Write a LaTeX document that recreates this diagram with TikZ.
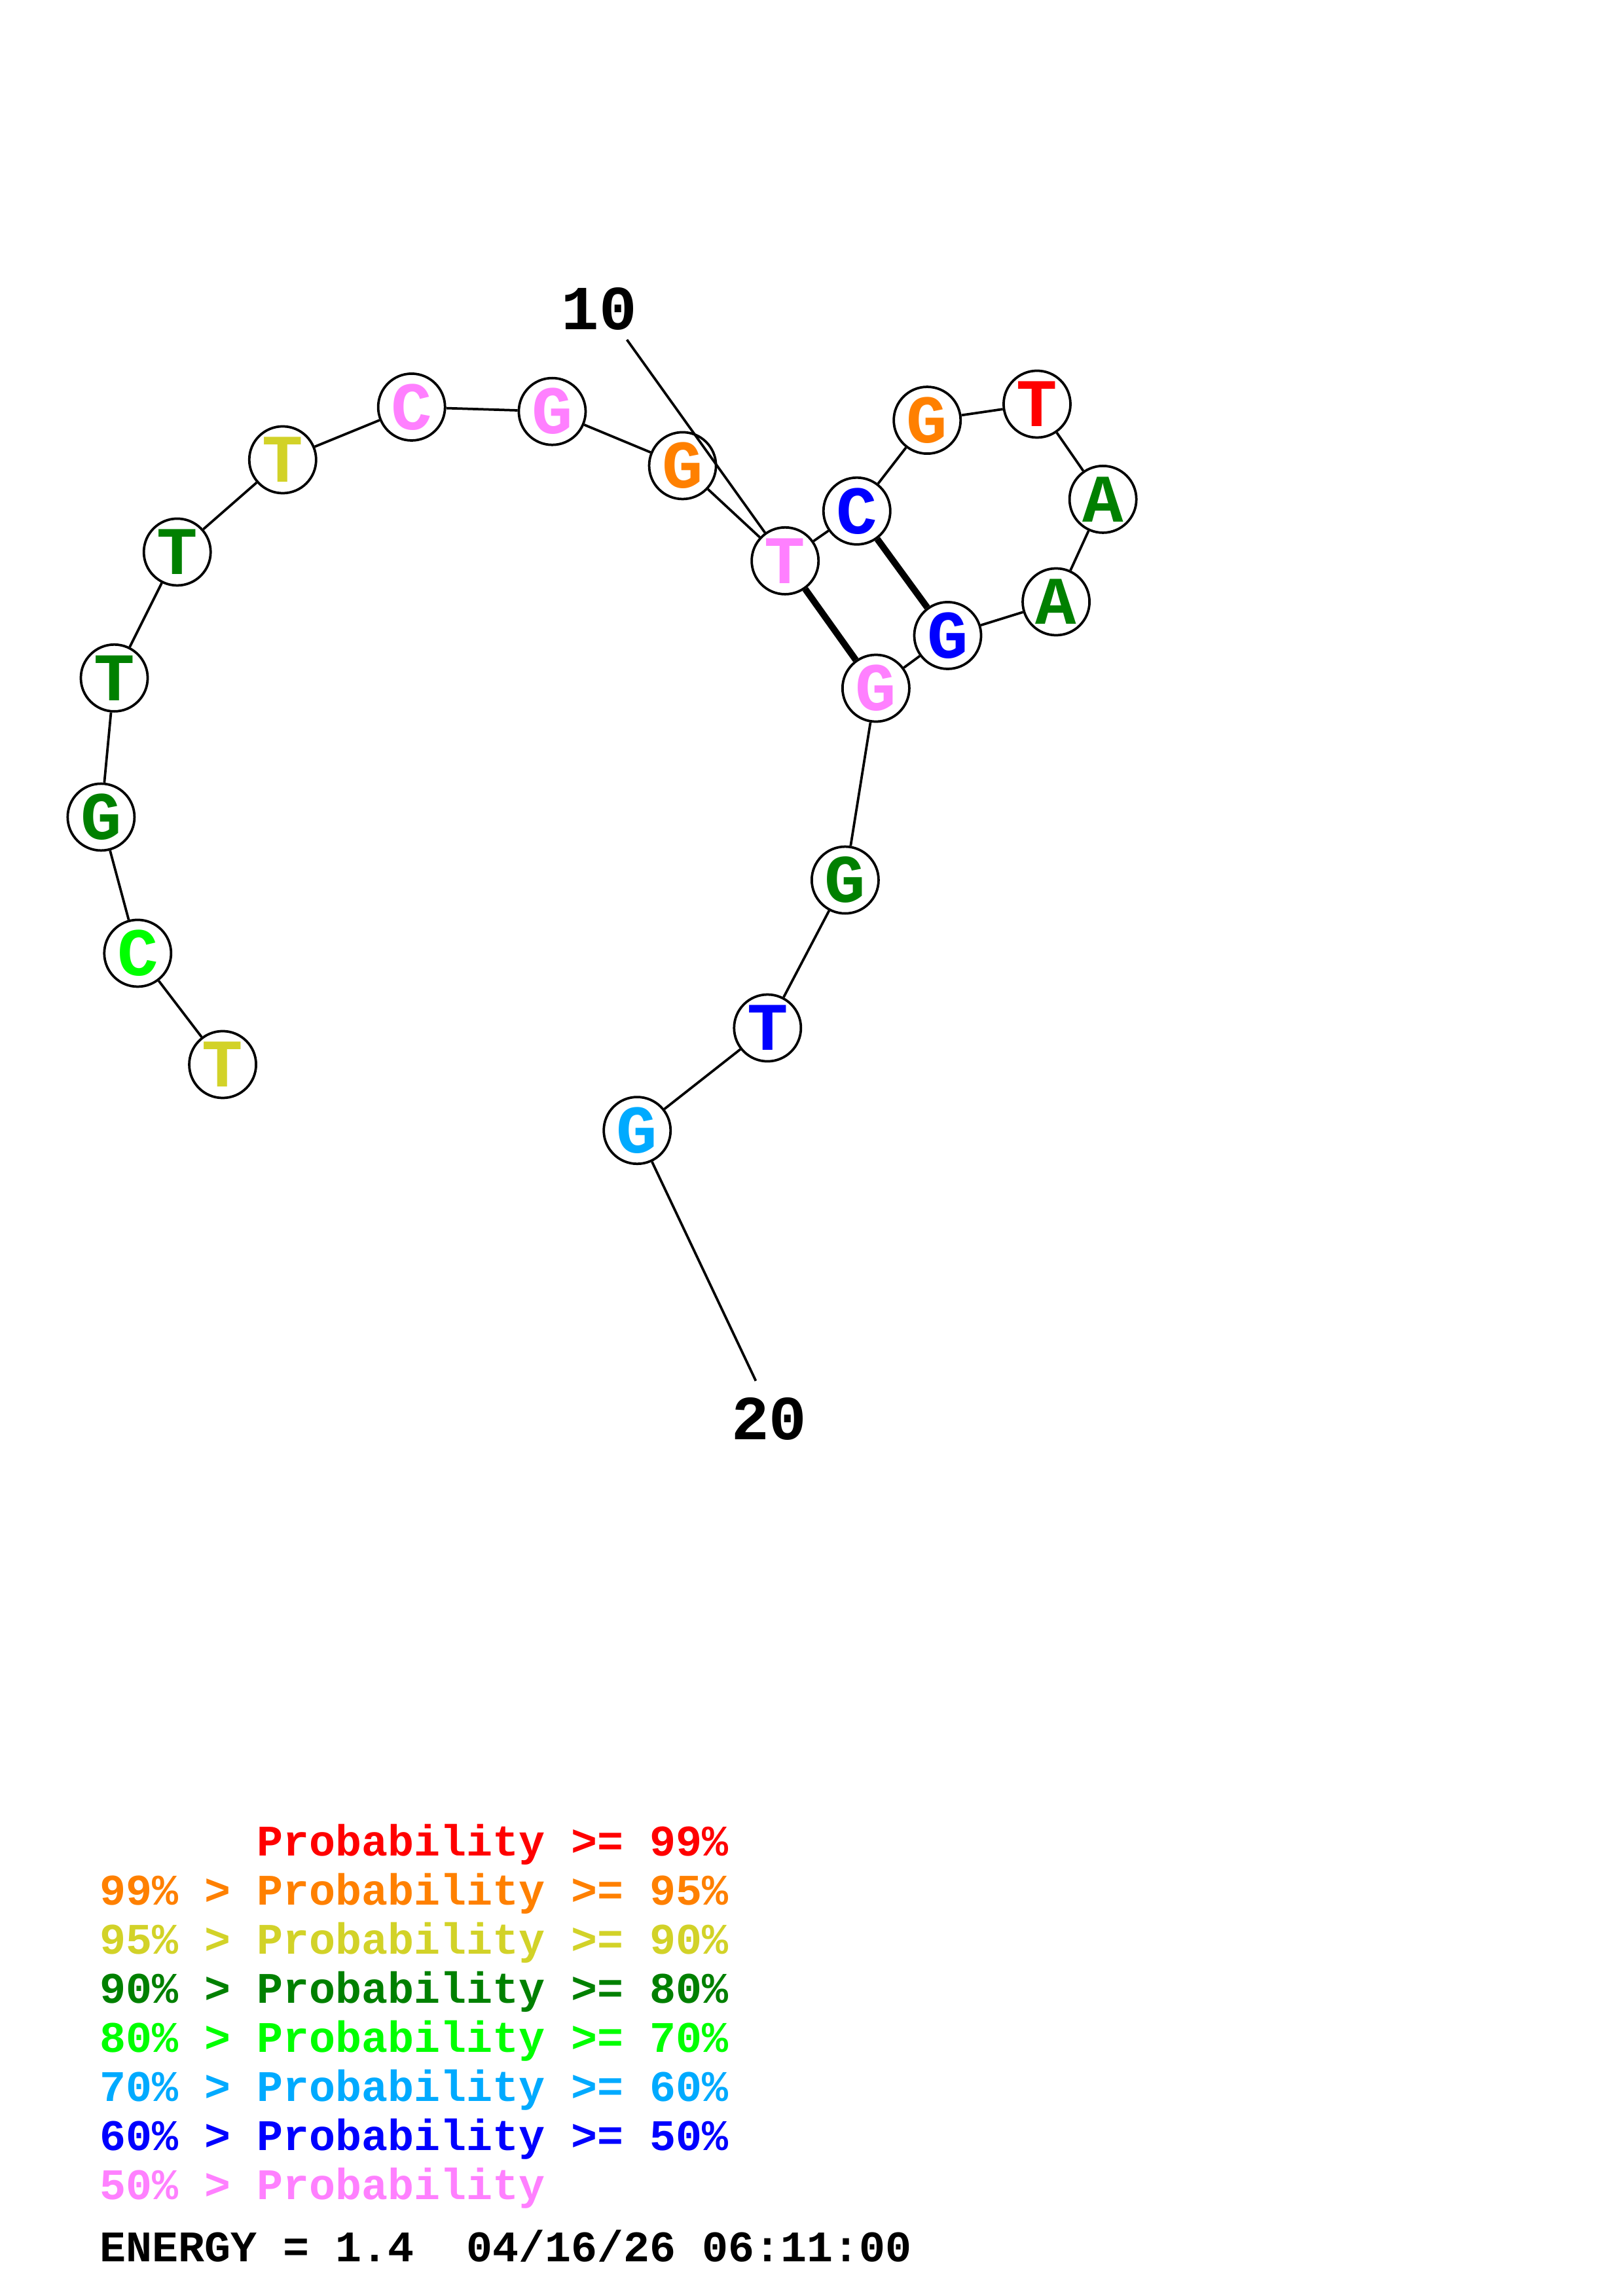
\documentclass[tikz,border=0pt]{standalone}
\usepackage{fontspec}
\setmonofont{Liberation Mono}
\definecolor{pred}{RGB}{255,0,0}
\definecolor{porange}{RGB}{255,128,0}
\definecolor{pyellow}{RGB}{210,210,40}
\definecolor{pdkgreen}{RGB}{0,128,0}
\definecolor{pgreen}{RGB}{0,255,0}
\definecolor{psky}{RGB}{0,170,255}
\definecolor{pblue}{RGB}{0,0,255}
\definecolor{ppink}{RGB}{255,128,255}

\begin{document}
\begin{tikzpicture}[x=0.537pt,y=0.537pt,yscale=-1,
    base/.style={circle,draw,line width=0.9pt,fill=white,minimum size=24.5pt,inner sep=0pt,
      font=\ttfamily\bfseries\fontsize{25}{25}\selectfont},
    bond/.style={line width=0.9pt},
    pairbond/.style={line width=2.4pt},
    tick/.style={inner sep=0pt,font=\ttfamily\bfseries\fontsize{23}{23}\selectfont},
    legend/.style={anchor=base west,inner sep=0pt,font=\ttfamily\bfseries\fontsize{16}{16}\selectfont}]
    \useasboundingbox (0,0) rectangle (1108,1568);

    % backbone lines
    \coordinate (c10) at (428,232);
    \coordinate (c20) at (516,943);

    % bases
    \foreach \x/\y/\b/\c [count=\i] in {152/727/T/pyellow, 94/651/C/pgreen, 69/558/G/pdkgreen,
        78/463/T/pdkgreen, 121/377/T/pdkgreen, 193/314/T/pyellow, 281/278/C/ppink,
        377/281/G/ppink, 466/318/G/porange, 536/383/T/ppink, 585/349/C/pblue,
        633/287/G/porange, 708/276/T/pred, 753/341/A/pdkgreen, 721/411/A/pdkgreen,
        647/434/G/pblue, 598/470/G/ppink, 577/601/G/pdkgreen, 524/702/T/pblue, 435/772/G/psky}
      \node[base,text=\c] (n\i) at (\x,\y) {\b};

    \foreach \i [remember=\i as \last (initially 1)] in {2,...,20}
      \draw[bond] (n\last) -- (n\i);

    % base pairs
    \draw[pairbond] (n10) -- (n17);
    \draw[pairbond] (n11) -- (n16);

    % position labels
    \node[tick] (t10) at (409,211) {10};
    \node[tick] (t20) at (525,969) {20};
    \draw[bond] (c10) -- (n10);
    \draw[bond] (n20) -- (c20);

    % legend
    \node[legend,text=pred] (l1) at (68,1267.5) {\phantom{99\% > }Probability >= 99\%};
    \foreach \c/\t [count=\i from 2] in {porange/99\% > Probability >= 95\%,
        pyellow/95\% > Probability >= 90\%, pdkgreen/90\% > Probability >= 80\%,
        pgreen/80\% > Probability >= 70\%, psky/70\% > Probability >= 60\%,
        pblue/60\% > Probability >= 50\%, ppink/50\% > Probability}
      \node[legend,text=\c] (l\i) at (68,1267.5+33.5*\i-33.5) {\t};
    \node[legend] (energy) at (68,1544.5) {ENERGY = 1.4\ \ 04/16/26 06:11:00};
\end{tikzpicture}
\end{document}
